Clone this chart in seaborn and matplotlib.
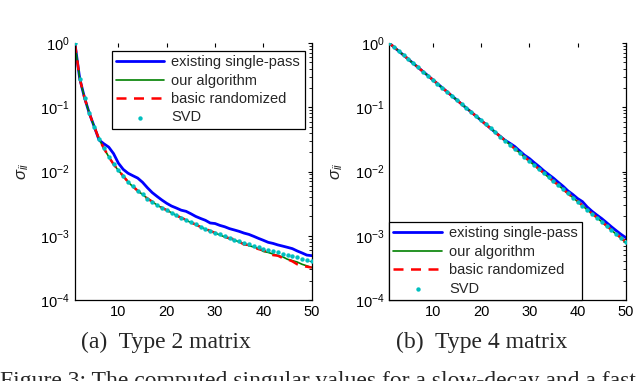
import numpy as np
import pandas as pd
import matplotlib
matplotlib.use('Agg')
import matplotlib.pyplot as plt
import seaborn as sns
from matplotlib.ticker import LogLocator, NullFormatter

# singular value index
idx = list(range(1, 51))

# (a) Type 2 matrix, slow decay
svd_a = [1.0, 0.28, 0.14, 0.080, 0.050, 0.032, 0.023, 0.017, 0.013, 0.0105,
         0.0085, 0.0069, 0.0059, 0.0050, 0.0044, 0.0038, 0.0034, 0.0030, 0.00275, 0.0025,
         0.00229, 0.00209, 0.00191, 0.00178, 0.00162, 0.00151, 0.00138, 0.00129, 0.00120, 0.00112,
         0.00105, 0.00098, 0.00093, 0.00087, 0.00083, 0.00078, 0.00074, 0.00069, 0.00066, 0.00063,
         0.00060, 0.00058, 0.00055, 0.00052, 0.00050, 0.00048, 0.00046, 0.00044, 0.00042, 0.00040]
ours_a = [1.0, 0.28, 0.14, 0.080, 0.050, 0.032, 0.023, 0.017, 0.013, 0.0104,
          0.0085, 0.0069, 0.0058, 0.0050, 0.0044, 0.0038, 0.0034, 0.0030, 0.00272, 0.0025,
          0.00228, 0.00207, 0.00190, 0.00176, 0.00160, 0.00150, 0.00137, 0.00127, 0.00118, 0.00110,
          0.00103, 0.00096, 0.00090, 0.00086, 0.00080, 0.00076, 0.00070, 0.00067, 0.00063, 0.00057,
          0.00055, 0.00052, 0.00049, 0.00047, 0.00043, 0.00041, 0.00039, 0.00036, 0.00034, 0.00032]
basic_a = [1.0, 0.28, 0.14, 0.080, 0.050, 0.032, 0.023, 0.017, 0.013, 0.0105,
           0.0085, 0.0069, 0.0059, 0.0050, 0.0044, 0.0038, 0.0034, 0.0030, 0.00273, 0.0025,
           0.00229, 0.00208, 0.00190, 0.00177, 0.00161, 0.00150, 0.00137, 0.00128, 0.00119, 0.00111,
           0.00104, 0.00097, 0.00091, 0.00088, 0.00081, 0.00073, 0.00072, 0.00066, 0.00062, 0.00060,
           0.00054, 0.00050, 0.00049, 0.00045, 0.00043, 0.00040, 0.00036, 0.00034, 0.00033, 0.00032]
single_a = [1.0, 0.28, 0.14, 0.080, 0.050, 0.031, 0.027, 0.024, 0.019, 0.0135,
            0.0108, 0.0094, 0.0086, 0.0079, 0.0068, 0.0056, 0.0047, 0.0041, 0.0036, 0.0032,
            0.0029, 0.0027, 0.0025, 0.0024, 0.0022, 0.0020, 0.00186, 0.00174, 0.00158, 0.00155,
            0.00145, 0.00138, 0.00129, 0.00123, 0.00117, 0.00110, 0.00105, 0.00098, 0.00091, 0.00085,
            0.00079, 0.00076, 0.00072, 0.00069, 0.00066, 0.00063, 0.00058, 0.00054, 0.00050, 0.00049]

# (b) Type 4 matrix, fast decay
svd_b = [1.0, 0.865, 0.747, 0.646, 0.558, 0.482, 0.417, 0.360, 0.312, 0.269,
         0.233, 0.201, 0.174, 0.150, 0.130, 0.112, 0.097, 0.084, 0.0726, 0.0627,
         0.0542, 0.0469, 0.0405, 0.0350, 0.0303, 0.0261, 0.0226, 0.0195, 0.0169, 0.0146,
         0.0126, 0.0109, 0.0094, 0.0081, 0.0070, 0.0061, 0.00526, 0.00455, 0.00393, 0.0034,
         0.00294, 0.00254, 0.00219, 0.0019, 0.00164, 0.00142, 0.00122, 0.00106, 0.00092, 0.00079]
ours_b = [1.0, 0.865, 0.747, 0.646, 0.558, 0.482, 0.417, 0.360, 0.312, 0.269,
          0.233, 0.201, 0.174, 0.150, 0.130, 0.112, 0.097, 0.084, 0.0725, 0.0627,
          0.0541, 0.0468, 0.0405, 0.0349, 0.0302, 0.0262, 0.0227, 0.0196, 0.0168, 0.0145,
          0.0126, 0.0108, 0.0094, 0.0081, 0.0071, 0.0061, 0.00530, 0.00452, 0.00395, 0.0034,
          0.00296, 0.00252, 0.00220, 0.0019, 0.00165, 0.00141, 0.00123, 0.00105, 0.00091, 0.00078]
basic_b = [1.0, 0.865, 0.747, 0.646, 0.558, 0.482, 0.417, 0.360, 0.312, 0.269,
           0.233, 0.201, 0.174, 0.150, 0.130, 0.112, 0.097, 0.084, 0.0727, 0.0628,
           0.0542, 0.0469, 0.0406, 0.0351, 0.0303, 0.0262, 0.0226, 0.0196, 0.0170, 0.0146,
           0.0127, 0.0109, 0.0095, 0.0082, 0.0070, 0.0062, 0.00528, 0.00458, 0.00394, 0.00345,
           0.00296, 0.00256, 0.00221, 0.00192, 0.00166, 0.00143, 0.00123, 0.00107, 0.00093, 0.00080]
single_b = [1.0, 0.865, 0.747, 0.646, 0.558, 0.482, 0.417, 0.360, 0.312, 0.269,
            0.233, 0.201, 0.174, 0.150, 0.130, 0.112, 0.097, 0.084, 0.0726, 0.0627,
            0.0542, 0.0469, 0.0405, 0.0352, 0.0306, 0.0275, 0.0245, 0.0210, 0.0180, 0.0160,
            0.0138, 0.0120, 0.0103, 0.0090, 0.0079, 0.0068, 0.0059, 0.0050, 0.0044, 0.0038,
            0.0034, 0.0028, 0.0024, 0.0021, 0.00185, 0.0016, 0.00138, 0.0012, 0.00105, 0.00093]

captions = ['(a)  Type 2 matrix', '(b)  Type 4 matrix']
labels = ['existing single-pass', 'our algorithm', 'basic randomized', 'SVD']

sns.set_style('white')
plt.rcParams['font.family'] = ['Liberation Sans', 'DejaVu Sans']
plt.rcParams['mathtext.fontset'] = 'custom'
plt.rcParams['mathtext.rm'] = 'Liberation Sans'
plt.rcParams['mathtext.it'] = 'Liberation Sans:italic'

fig = plt.figure(figsize=(6.4, 3.81), dpi=100)
ax_a = fig.add_axes([0.117, 0.2126, 0.370, 0.6745])
ax_b = fig.add_axes([0.608, 0.2126, 0.370, 0.6745])

panels = [(ax_a, single_a, ours_a, basic_a, svd_a),
          (ax_b, single_b, ours_b, basic_b, svd_b)]

for ax, single, ours, basic, svd in panels:
    sns.lineplot(x=idx, y=single, color=(0, 0, 1), lw=2.0, ax=ax, label=labels[0])
    sns.lineplot(x=idx, y=ours, color=(0, 0.5, 0), lw=1.2, ax=ax, label=labels[1])
    sns.lineplot(x=idx, y=basic, color=(1, 0, 0), lw=1.8, ls=(0, (4, 3)), ax=ax, label=labels[2])
    sns.scatterplot(x=idx, y=svd, color=(0, 0.75, 0.75), s=10, marker='o', linewidth=0,
                    ax=ax, label=labels[3], zorder=5)
    ax.set_yscale('log')
    ax.set_xlim(1, 50)
    ax.set_ylim(1e-4, 1)
    ax.set_xticks([10, 20, 30, 40, 50])
    ax.yaxis.set_major_locator(LogLocator(base=10, numticks=10))
    ax.yaxis.set_minor_locator(LogLocator(base=10, subs=np.arange(2, 10), numticks=10))
    ax.yaxis.set_minor_formatter(NullFormatter())
    ax.tick_params(which='both', direction='in', top=True, right=True, labelsize=10.5, colors='black')
    ax.tick_params(which='major', length=3, width=0.8)
    ax.tick_params(which='minor', length=2, width=0.6)
    for side in ['left', 'right', 'bottom']:
        ax.spines[side].set_color('black')
        ax.spines[side].set_linewidth(0.9)
    ax.spines['top'].set_visible(False)
    ax.set_ylabel(r'$\sigma_{ii}$', fontsize=12, labelpad=7)

legend_kw = dict(borderaxespad=0, fontsize=10.5, handlelength=3.3, frameon=True,
                 fancybox=False, edgecolor='black', framealpha=1, borderpad=0.3,
                 labelspacing=0.3, handletextpad=0.5)
leg_a = ax_a.legend(loc='upper right', bbox_to_anchor=(0.970, 0.969), **legend_kw)
leg_b = ax_b.legend(loc='lower left', bbox_to_anchor=(0, 0), **legend_kw)
for leg in (leg_a, leg_b):
    leg.get_frame().set_linewidth(0.9)

fig.text(0.26, 1 - 342 / 381, captions[0], ha='center', va='center',
         family='Liberation Serif', fontsize=17)
fig.text(0.752, 1 - 342 / 381, captions[1], ha='center', va='center',
         family='Liberation Serif', fontsize=17)
fig.text(0.0, 1 - 387 / 381, 'Figure 3: The computed singular values for a slow-decay and a fast',
         ha='left', va='baseline', family='Liberation Serif', fontsize=17)

plt.savefig('out.png', dpi=100)
